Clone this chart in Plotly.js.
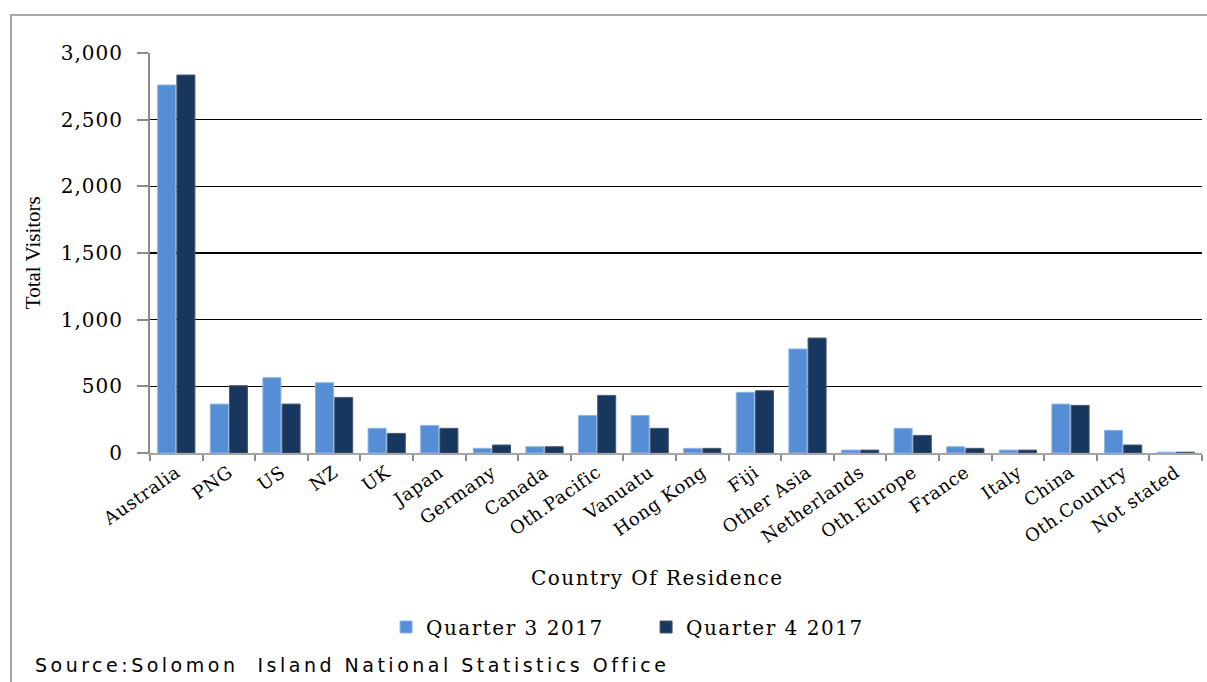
<!DOCTYPE html>
<html>
<head>
<meta charset="utf-8">
<script src="https://cdn.plot.ly/plotly-3.0.1.min.js"></script>
<style>
html,body{margin:0;padding:0;background:#fff;}
#wrap{position:relative;width:1207px;height:682px;overflow:hidden;}
#frame{position:absolute;left:10px;top:14px;width:1210px;height:700px;border:2px solid #a6a6a6;box-sizing:border-box;}
#chart{position:absolute;left:0;top:0;width:1207px;height:682px;}
#chart .xtick text{letter-spacing:0.6px;}
#chart .ytick text{letter-spacing:1px;}
#chart .legendtext{letter-spacing:1.5px;}
#chart .annotation[data-index="0"] text{letter-spacing:1.5px;}
#chart .annotation[data-index="2"] text{letter-spacing:3.5px;}
</style>
</head>
<body>
<div id="wrap">
<div id="frame"></div>
<div id="chart"></div>
</div>
<script>
const categories = ["Australia","PNG","US","NZ","UK","Japan","Germany","Canada","Oth.Pacific","Vanuatu","Hong Kong","Fiji","Other Asia","Netherlands","Oth.Europe","France","Italy","China","Oth.Country","Not stated"];
const q3_2017 = [2760,367,565,527,185,207,35,47,282,282,35,455,780,22,185,47,22,367,170,6];
const q4_2017 = [2835,505,367,417,147,185,60,47,432,185,35,467,862,22,132,35,22,357,60,6];
const seriesNames = ["Quarter 3 2017","Quarter 4 2017"];

const serif = "DejaVu Serif, serif";
const data = [
  {type:"bar", name:seriesNames[0], x:categories, y:q3_2017,
   marker:{color:"#558ed5", line:{color:"#8db4e2", width:1}}},
  {type:"bar", name:seriesNames[1], x:categories, y:q4_2017,
   marker:{color:"#17375e", line:{color:"#4a5a70", width:1}}}
];
const layout = {
  width:1207, height:682,
  margin:{l:150, r:5, t:53, b:229},
  paper_bgcolor:"rgba(0,0,0,0)", plot_bgcolor:"rgba(0,0,0,0)",
  barmode:"group", bargap:0.27, bargroupgap:0.06,
  showlegend:true,
  legend:{orientation:"h", x:0.2244, xanchor:"left", y:-0.435, yanchor:"middle",
          font:{family:serif, size:20, color:"#000"}, traceorder:"normal",
          itemwidth:30, entrywidth:215, entrywidthmode:"pixels"},
  xaxis:{type:"category", tickangle:-35, tickson:"boundaries", ticks:"outside", ticklen:6,
         tickcolor:"#8c8c8c", tickwidth:2, showline:true, linecolor:"#a6a6a6", linewidth:2,
         tickfont:{family:serif, size:18, color:"#000"}, showgrid:false, automargin:false},
  yaxis:{range:[0,3000], tickvals:[0,500,1000,1500,2000,2500,3000],
         ticktext:["0","500","1,000","1,500","2,000","2,500","3,000"],
         ticks:"outside", ticklen:11, tickcolor:"#8c8c8c", tickwidth:2,
         ticklabelstandoff:10,
         showline:true, linecolor:"#8c8c8c", linewidth:2,
         showgrid:true, gridcolor:"#000", gridwidth:1.5, zeroline:false,
         tickfont:{family:serif, size:20, color:"#000"}, automargin:false},
  annotations:[
    {text:"Country Of Residence", xref:"paper", yref:"paper", x:0.482, y:-0.3125,
     xanchor:"center", yanchor:"middle", showarrow:false, font:{family:serif, size:20, color:"#000"}},
    {text:"Total Visitors", xref:"paper", yref:"paper", x:-0.111, y:0.5, textangle:-90,
     xanchor:"center", yanchor:"middle", showarrow:false, font:{family:"Liberation Serif, serif", size:21, color:"#000"}},
    {text:"Source:Solomon  Island National Statistics Office", xref:"paper", yref:"paper", x:-0.111, y:-0.53,
     xanchor:"left", yanchor:"middle", align:"left", width:680, showarrow:false,
     font:{family:"DejaVu Sans, sans-serif", size:19, color:"#000"}}
  ]
};
Plotly.newPlot("chart", data, layout, {displayModeBar:false, staticPlot:true});
</script>
</body>
</html>
